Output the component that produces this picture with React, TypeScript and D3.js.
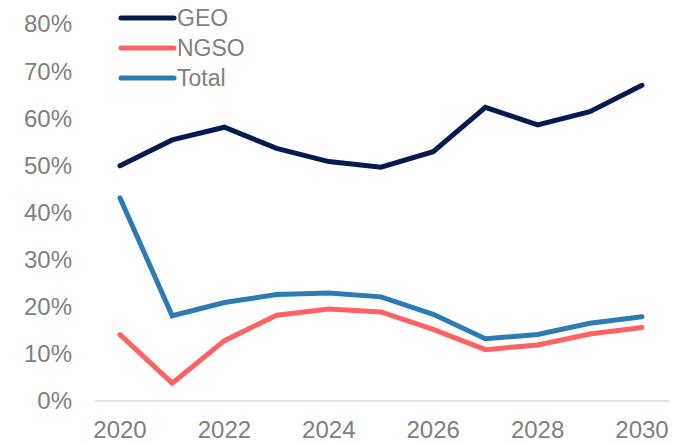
import React from 'react';
import * as d3 from 'd3';

const years = [2020, 2021, 2022, 2023, 2024, 2025, 2026, 2027, 2028, 2029, 2030];
const geo = [0.499, 0.554, 0.581, 0.536, 0.508, 0.496, 0.529, 0.623, 0.586, 0.614, 0.670];
const ngso = [0.141, 0.038, 0.128, 0.182, 0.195, 0.189, 0.152, 0.109, 0.119, 0.142, 0.156];
const total = [0.431, 0.181, 0.209, 0.226, 0.229, 0.221, 0.184, 0.132, 0.141, 0.165, 0.179];
const yTicks = [0, 0.1, 0.2, 0.3, 0.4, 0.5, 0.6, 0.7, 0.8];
const xTicks = [2020, 2022, 2024, 2026, 2028, 2030];

const series = [
  { name: 'GEO', values: geo, color: '#061a4f' },
  { name: 'NGSO', values: ngso, color: '#ff6262' },
  { name: 'Total', values: total, color: '#2d7bb3' },
];

const W = 685, H = 443;
const font = 'Liberation Sans, Arial, sans-serif';
const grey = '#7f7f7f';

export default function App() {
  const x = d3.scaleLinear().domain([2020, 2030]).range([120, 642]);
  const y = d3.scaleLinear().domain([0, 0.8]).range([401, 24]);
  const line = d3.line<number>()
    .x((d, i) => x(years[i]))
    .y(d => y(d));

  return (
    <svg width={W} height={H} style={{ position: 'absolute', left: 0, top: 0, background: '#fff' }}>
      {/* baseline */}
      <line x1={95} x2={669} y1={y(0)} y2={y(0)} stroke="#d9d9d9" strokeWidth={1.5} />
      {/* y ticks */}
      {yTicks.map(t => (
        <text key={t} x={72} y={y(t)} dy="0.35em" textAnchor="end"
          fontFamily={font} fontSize={24} fill={grey}>
          {d3.format('.0%')(t)}
        </text>
      ))}
      {/* x ticks */}
      {xTicks.map(t => (
        <text key={t} x={x(t)} y={438} textAnchor="middle"
          fontFamily={font} fontSize={24} fill={grey}>
          {t}
        </text>
      ))}
      {/* lines */}
      {series.map(s => (
        <path key={s.name} d={line(s.values) || ''} fill="none" stroke={s.color}
          strokeWidth={5} strokeLinejoin="miter" strokeLinecap="round" />
      ))}
      {/* legend */}
      {series.map((s, i) => (
        <g key={s.name} transform={`translate(0,${18 + i * 30})`}>
          <line x1={121} x2={174} y1={0} y2={0} stroke={s.color} strokeWidth={5} strokeLinecap="round" />
          <text x={177} y={0} dy="0.35em" fontFamily={font} fontSize={23} fill={grey}>{s.name}</text>
        </g>
      ))}
    </svg>
  );
}
